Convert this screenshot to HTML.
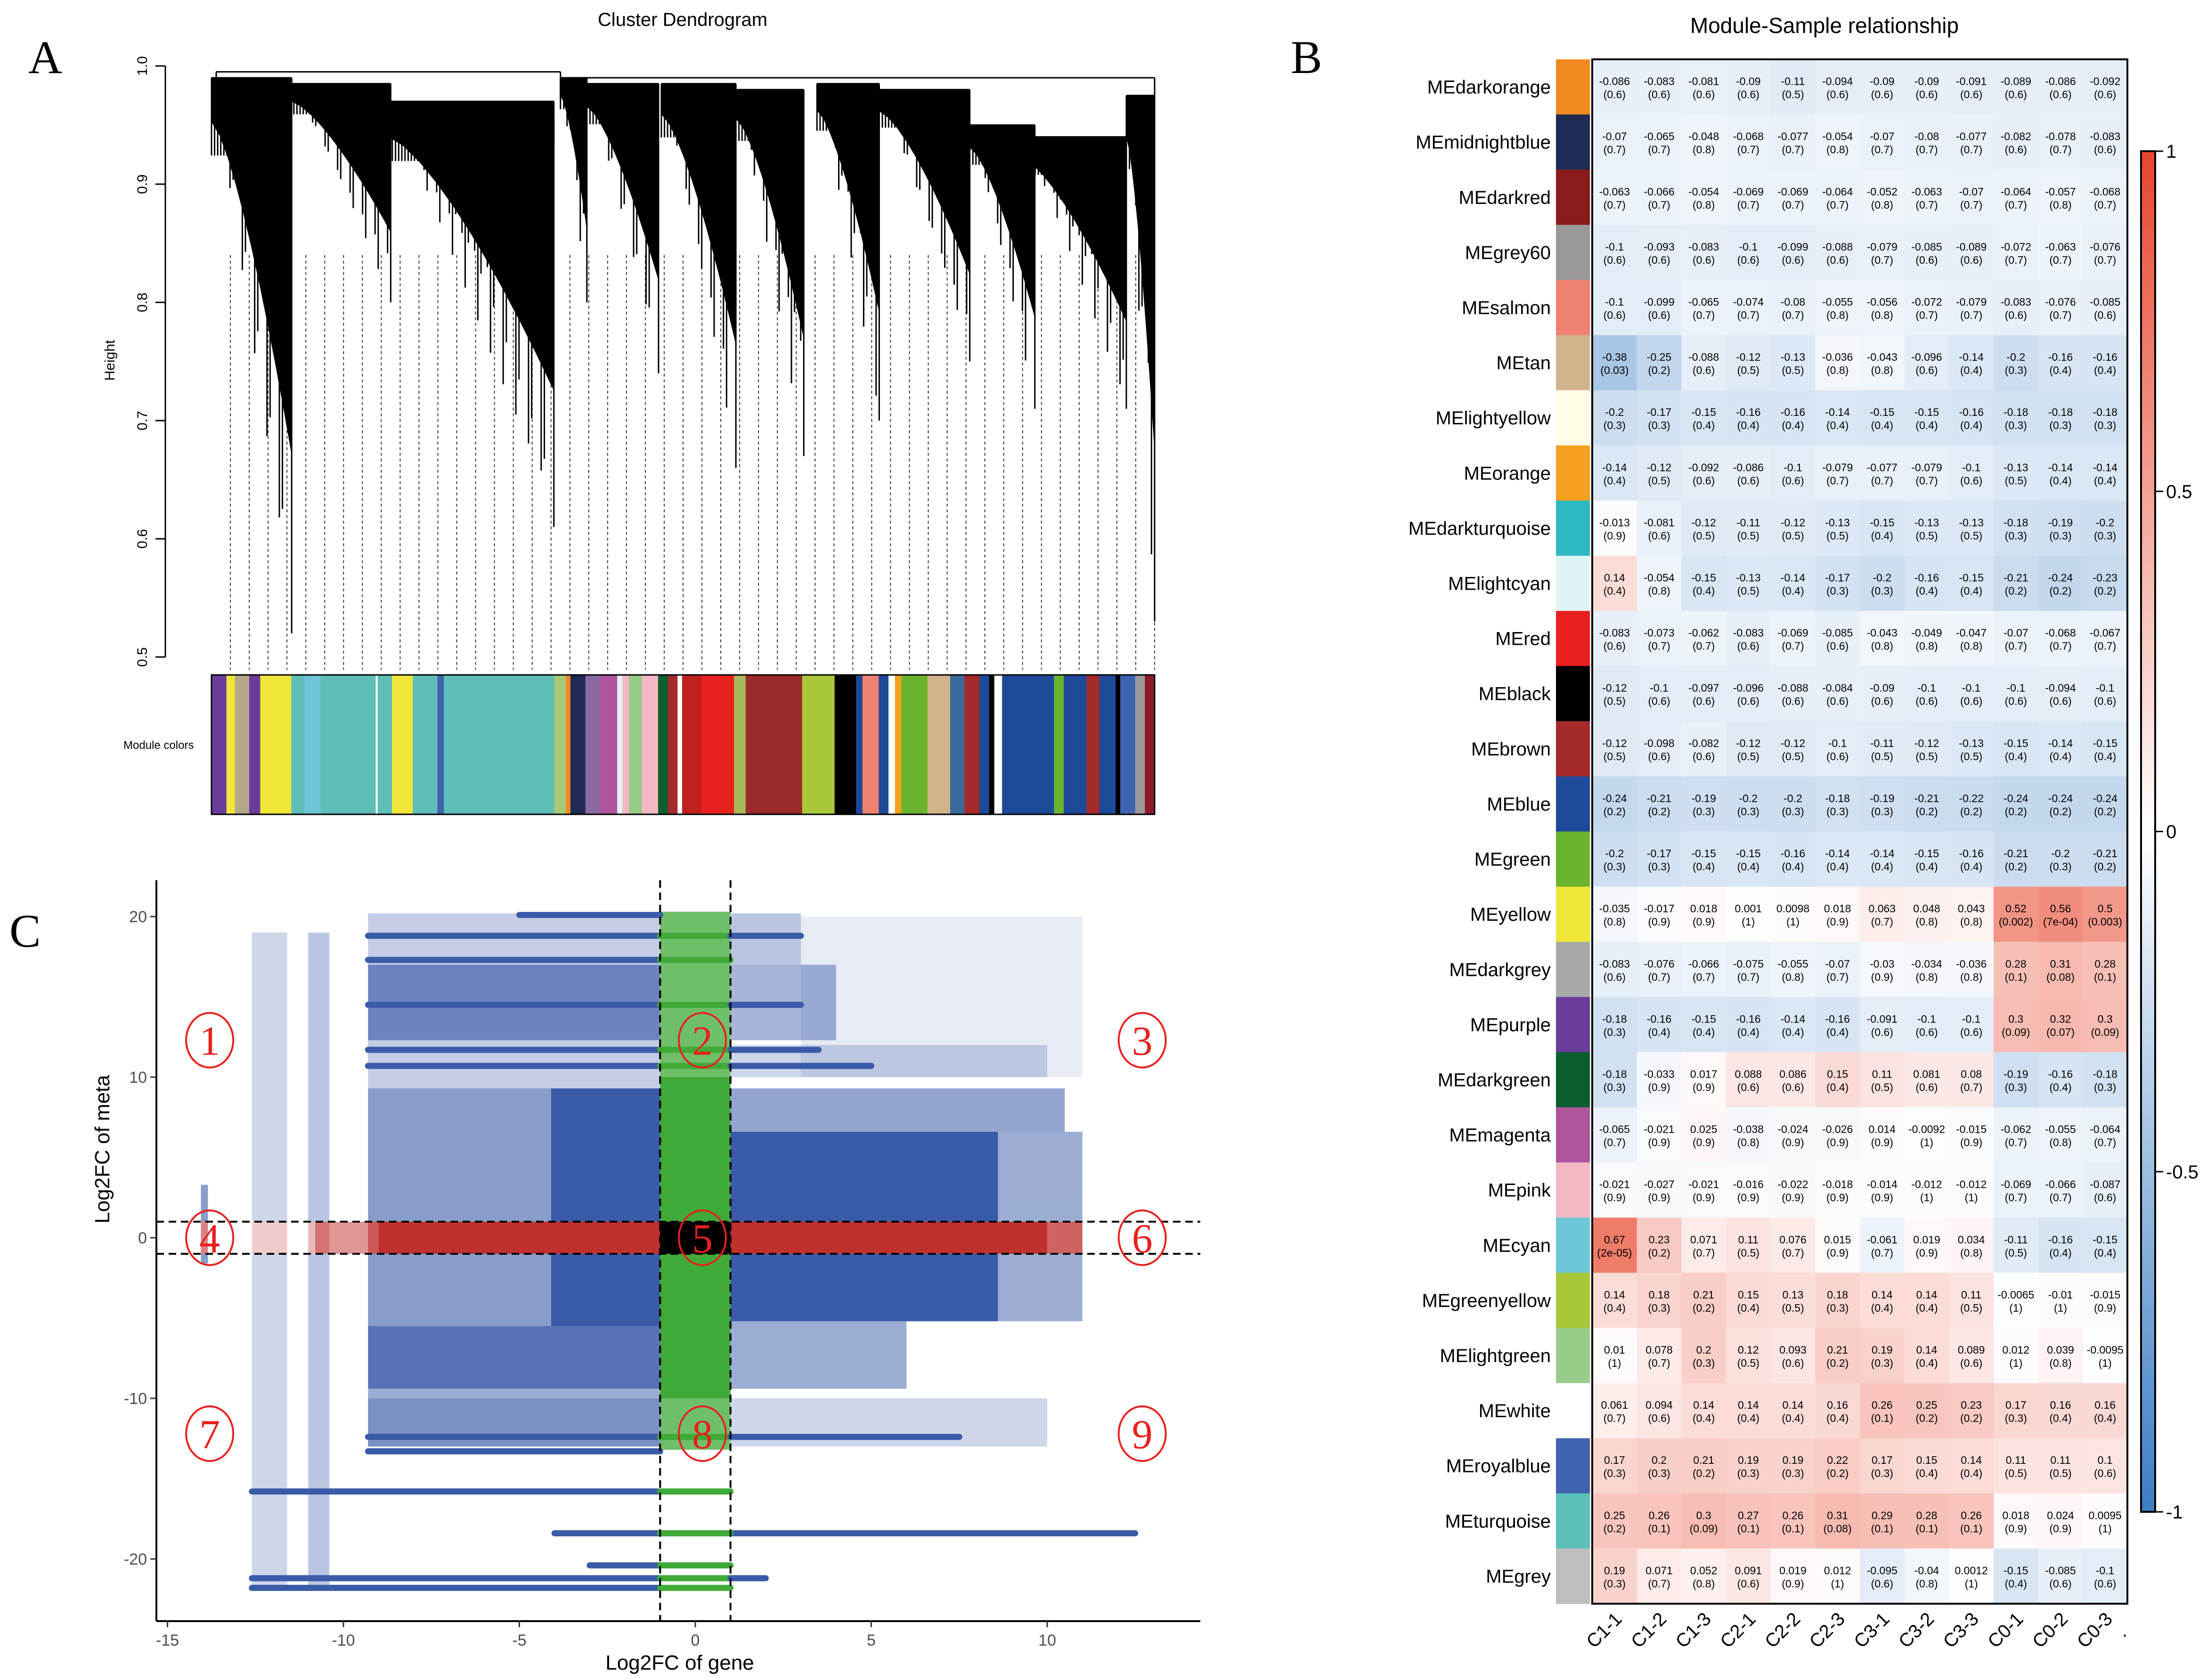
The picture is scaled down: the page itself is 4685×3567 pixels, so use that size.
<!DOCTYPE html>
<html><head><meta charset="utf-8"><style>
html,body{margin:0;padding:0;background:#fff;}
svg{display:block;font-family:"Liberation Sans",sans-serif;}
</style></head><body>
<svg id="fig" width="4685" height="3567" viewBox="0 0 4685 3567" xmlns="http://www.w3.org/2000/svg">
<rect width="4685" height="3567" fill="#fff"/>
<text x="60" y="155" font-family="Liberation Serif,serif" font-size="100">A</text>
<text x="2740" y="155" font-family="Liberation Serif,serif" font-size="100">B</text>
<text x="20" y="2010" font-family="Liberation Serif,serif" font-size="100">C</text>
<g id="pa"></g>
<g id="pb"></g>
<g id="pc"></g>
</svg>
<script>
const NS="http://www.w3.org/2000/svg";
function mk(p,t,a){const e=document.createElementNS(NS,t);for(const k in a)e.setAttribute(k,a[k]);p.appendChild(e);return e;}

/* ---------- Panel A: dendrogram ---------- */
const clusterLeft=[0.0,0.084,0.185,0.37,0.398,0.477,0.556,0.642,0.708,0.804,0.86,0.97];
const clusterRight=[0.085,0.19,0.363,0.398,0.474,0.556,0.628,0.708,0.804,0.873,0.97,1.0];
const clusterTop=[0.99,0.985,0.97,0.99,0.985,0.985,0.98,0.985,0.98,0.95,0.94,0.975];
const clusterBottom=[0.52,0.80,0.61,0.80,0.74,0.66,0.67,0.70,0.75,0.71,0.71,0.53];
const mergeLeft=[0.005,0.37,0.185];
const mergeRight=[0.37,1.0,0.363];
const mergeHeight=[0.995,0.99,0.955];
const yTicksA=[0.5,0.6,0.7,0.8,0.9,1.0];
const colorStart=[0,23,36,58,75,123,143,168,253,256,278,310,348,358,528,546,553,576,598,625,633,643,663,688,703,718,725,755,805,823,910,960,993,1003,1028,1043,1053,1063,1103,1138,1160,1183,1198,1206,1218,1298,1313,1348,1368,1393,1400,1423,1438];
const colorFill=["#6A3D9A","#F0E63A","#B5A88A","#6A3D9A","#F0E63A","#5EBFB8","#6EC5D8","#5EBFB8","#ffffff","#5EBFB8","#F0E63A","#5EBFB8","#3F63B0","#5EBFB8","#A8C878","#F08A1E","#1F2A55","#8A6AA0","#B0549E","#E0F4F6","#F4B8C4","#98CC88","#F4B8C4","#0B5E30","#A52A2A","#ffffff","#C02020","#E8201E","#A8B85A","#9B2A2A","#A8C83A","#000000","#1E4A9A","#F08070","#1E4A9A","#ffffff","#F5A01E","#6AB42E","#D2B48C","#3A6A9A","#A52A2A","#1E4A9A","#000000","#ffffff","#1E4A9A","#6AB42E","#1E4A9A","#A52A2A","#1E4A9A","#000000","#3F63B0","#999999","#8B1A2A"];
(function(){
 const g=document.getElementById('pa');
 const X0=449,X1=2451,total=1453;
 const hx=f=>X0+f*(X1-X0), hy=h=>140+(1-h)*2510;
 const t=mk(g,'text',{x:1449,y:55,'text-anchor':'middle','font-size':40});t.textContent='Cluster Dendrogram';
 
 
 mk(g,'line',{x1:351,y1:hy(1.0),x2:351,y2:hy(0.5),stroke:'#000','stroke-width':3});
 yTicksA.forEach(v=>{mk(g,'line',{x1:330,y1:hy(v),x2:351,y2:hy(v),stroke:'#000','stroke-width':3});
  const l=mk(g,'text',{x:312,y:hy(v),'text-anchor':'middle','font-size':30,transform:`rotate(-90 312 ${hy(v)})`});l.textContent=v.toFixed(1);
  
  });
 const ht=mk(g,'text',{x:243,y:765,'text-anchor':'middle','font-size':30,transform:'rotate(-90 243 765)'});ht.textContent='Height';
 
 
 for(let i=0;i<50;i++){const f=0.02+i*0.02;mk(g,'line',{x1:hx(f),y1:hy(0.84),x2:hx(f),y2:1422,stroke:'#333','stroke-width':2,'stroke-dasharray':'6,6'});}
 clusterLeft.forEach((l,i)=>{
  const r=clusterRight[i],top=clusterTop[i],bot=clusterBottom[i];
  const N=Math.max(6,Math.round((r-l)*300));
  const cg=mk(g,'g',{});
  
  
  for(let k=0;k<=N;k++){const u=k/N;const x=hx(l+(r-l)*u);
   const s=Math.abs(Math.sin(k*2.37+i));
   const f=Math.max(0.14,Math.pow(u,1.1)*(0.45+0.55*s*s));
   const depth=(top-bot)*(k===N?1:f);
   mk(cg,'line',{x1:x,y1:hy(top),x2:x,y2:hy(top-depth),stroke:'#000','stroke-width':3});}
  // black mass sweeping down along the cluster
  const pts=[`${hx(l)},${hy(top)}`,`${hx(r)},${hy(top)}`];
  for(let k=10;k>=0;k--){const u=k/10;pts.push(`${hx(l+(r-l)*u)},${hy(top-(top-bot)*(0.08+0.6*Math.pow(u,1.4)))}`);}
  mk(cg,'polygon',{points:pts.join(' '),fill:'#000'});
  mk(cg,'line',{x1:hx(l),y1:hy(top),x2:hx(r),y2:hy(top),stroke:'#000','stroke-width':3});
 });
 mergeLeft.forEach((l,i)=>{const h=mergeHeight[i];
  mk(g,'line',{x1:hx(l),y1:hy(h),x2:hx(mergeRight[i]),y2:hy(h),stroke:'#000','stroke-width':3});
  mk(g,'line',{x1:hx(l),y1:hy(h),x2:hx(l),y2:hy(h-0.02),stroke:'#000','stroke-width':3});
  mk(g,'line',{x1:hx(mergeRight[i]),y1:hy(h),x2:hx(mergeRight[i]),y2:hy(h-0.02),stroke:'#000','stroke-width':3});});
 const cb=mk(g,'g',{});
 
 
 colorStart.forEach((s,i)=>{const e=i+1<colorStart.length?colorStart[i+1]:total;
  mk(cb,'rect',{x:X0+s/total*(X1-X0),y:1433,width:(e-s)/total*(X1-X0)+0.5,height:296,fill:colorFill[i]});});
 mk(cb,'rect',{x:X0,y:1433,width:X1-X0,height:296,fill:'none',stroke:'#000','stroke-width':3});
 const mc=mk(g,'text',{x:262,y:1590,'font-size':24});mc.textContent='Module colors';
 
 
})();

/* ---------- Panel B: heatmap ---------- */
const modules=["MEdarkorange","MEmidnightblue","MEdarkred","MEgrey60","MEsalmon","MEtan","MElightyellow","MEorange","MEdarkturquoise","MElightcyan","MEred","MEblack","MEbrown","MEblue","MEgreen","MEyellow","MEdarkgrey","MEpurple","MEdarkgreen","MEmagenta","MEpink","MEcyan","MEgreenyellow","MElightgreen","MEwhite","MEroyalblue","MEturquoise","MEgrey"];
const moduleColors=["#F08A1E","#1F2A55","#8B1A1A","#999999","#F08070","#D2B48C","#FFFDE6","#F5A01E","#2EB8C0","#E0F4F6","#E8201E","#000000","#A52A2A","#1E4A9A","#6AB42E","#F0E63A","#A9A9A9","#6A3D9A","#0B5E30","#B0549E","#F4B8C4","#6CC8D6","#A8C83A","#98CC88","#FFFFFF","#3F63B0","#5CC0B8","#BEBEBE"];
const samples=["C1-1","C1-2","C1-3","C2-1","C2-2","C2-3","C3-1","C3-2","C3-3","C0-1","C0-2","C0-3"];
const corr=[
[-0.086,-0.083,-0.081,-0.09,-0.11,-0.094,-0.09,-0.09,-0.091,-0.089,-0.086,-0.092],
[-0.07,-0.065,-0.048,-0.068,-0.077,-0.054,-0.07,-0.08,-0.077,-0.082,-0.078,-0.083],
[-0.063,-0.066,-0.054,-0.069,-0.069,-0.064,-0.052,-0.063,-0.07,-0.064,-0.057,-0.068],
[-0.1,-0.093,-0.083,-0.1,-0.099,-0.088,-0.079,-0.085,-0.089,-0.072,-0.063,-0.076],
[-0.1,-0.099,-0.065,-0.074,-0.08,-0.055,-0.056,-0.072,-0.079,-0.083,-0.076,-0.085],
[-0.38,-0.25,-0.088,-0.12,-0.13,-0.036,-0.043,-0.096,-0.14,-0.2,-0.16,-0.16],
[-0.2,-0.17,-0.15,-0.16,-0.16,-0.14,-0.15,-0.15,-0.16,-0.18,-0.18,-0.18],
[-0.14,-0.12,-0.092,-0.086,-0.1,-0.079,-0.077,-0.079,-0.1,-0.13,-0.14,-0.14],
[-0.013,-0.081,-0.12,-0.11,-0.12,-0.13,-0.15,-0.13,-0.13,-0.18,-0.19,-0.2],
[0.14,-0.054,-0.15,-0.13,-0.14,-0.17,-0.2,-0.16,-0.15,-0.21,-0.24,-0.23],
[-0.083,-0.073,-0.062,-0.083,-0.069,-0.085,-0.043,-0.049,-0.047,-0.07,-0.068,-0.067],
[-0.12,-0.1,-0.097,-0.096,-0.088,-0.084,-0.09,-0.1,-0.1,-0.1,-0.094,-0.1],
[-0.12,-0.098,-0.082,-0.12,-0.12,-0.1,-0.11,-0.12,-0.13,-0.15,-0.14,-0.15],
[-0.24,-0.21,-0.19,-0.2,-0.2,-0.18,-0.19,-0.21,-0.22,-0.24,-0.24,-0.24],
[-0.2,-0.17,-0.15,-0.15,-0.16,-0.14,-0.14,-0.15,-0.16,-0.21,-0.2,-0.21],
[-0.035,-0.017,0.018,0.001,0.0098,0.018,0.063,0.048,0.043,0.52,0.56,0.5],
[-0.083,-0.076,-0.066,-0.075,-0.055,-0.07,-0.03,-0.034,-0.036,0.28,0.31,0.28],
[-0.18,-0.16,-0.15,-0.16,-0.14,-0.16,-0.091,-0.1,-0.1,0.3,0.32,0.3],
[-0.18,-0.033,0.017,0.088,0.086,0.15,0.11,0.081,0.08,-0.19,-0.16,-0.18],
[-0.065,-0.021,0.025,-0.038,-0.024,-0.026,0.014,-0.0092,-0.015,-0.062,-0.055,-0.064],
[-0.021,-0.027,-0.021,-0.016,-0.022,-0.018,-0.014,-0.012,-0.012,-0.069,-0.066,-0.087],
[0.67,0.23,0.071,0.11,0.076,0.015,-0.061,0.019,0.034,-0.11,-0.16,-0.15],
[0.14,0.18,0.21,0.15,0.13,0.18,0.14,0.14,0.11,-0.0065,-0.01,-0.015],
[0.01,0.078,0.2,0.12,0.093,0.21,0.19,0.14,0.089,0.012,0.039,-0.0095],
[0.061,0.094,0.14,0.14,0.14,0.16,0.26,0.25,0.23,0.17,0.16,0.16],
[0.17,0.2,0.21,0.19,0.19,0.22,0.17,0.15,0.14,0.11,0.11,0.1],
[0.25,0.26,0.3,0.27,0.26,0.31,0.29,0.28,0.26,0.018,0.024,0.0095],
[0.19,0.071,0.052,0.091,0.019,0.012,-0.095,-0.04,0.0012,-0.15,-0.085,-0.1]];
const pvals=[
["0.6","0.6","0.6","0.6","0.5","0.6","0.6","0.6","0.6","0.6","0.6","0.6"],
["0.7","0.7","0.8","0.7","0.7","0.8","0.7","0.7","0.7","0.6","0.7","0.6"],
["0.7","0.7","0.8","0.7","0.7","0.7","0.8","0.7","0.7","0.7","0.8","0.7"],
["0.6","0.6","0.6","0.6","0.6","0.6","0.7","0.6","0.6","0.7","0.7","0.7"],
["0.6","0.6","0.7","0.7","0.7","0.8","0.8","0.7","0.7","0.6","0.7","0.6"],
["0.03","0.2","0.6","0.5","0.5","0.8","0.8","0.6","0.4","0.3","0.4","0.4"],
["0.3","0.3","0.4","0.4","0.4","0.4","0.4","0.4","0.4","0.3","0.3","0.3"],
["0.4","0.5","0.6","0.6","0.6","0.7","0.7","0.7","0.6","0.5","0.4","0.4"],
["0.9","0.6","0.5","0.5","0.5","0.5","0.4","0.5","0.5","0.3","0.3","0.3"],
["0.4","0.8","0.4","0.5","0.4","0.3","0.3","0.4","0.4","0.2","0.2","0.2"],
["0.6","0.7","0.7","0.6","0.7","0.6","0.8","0.8","0.8","0.7","0.7","0.7"],
["0.5","0.6","0.6","0.6","0.6","0.6","0.6","0.6","0.6","0.6","0.6","0.6"],
["0.5","0.6","0.6","0.5","0.5","0.6","0.5","0.5","0.5","0.4","0.4","0.4"],
["0.2","0.2","0.3","0.3","0.3","0.3","0.3","0.2","0.2","0.2","0.2","0.2"],
["0.3","0.3","0.4","0.4","0.4","0.4","0.4","0.4","0.4","0.2","0.3","0.2"],
["0.8","0.9","0.9","1","1","0.9","0.7","0.8","0.8","0.002","7e-04","0.003"],
["0.6","0.7","0.7","0.7","0.8","0.7","0.9","0.8","0.8","0.1","0.08","0.1"],
["0.3","0.4","0.4","0.4","0.4","0.4","0.6","0.6","0.6","0.09","0.07","0.09"],
["0.3","0.9","0.9","0.6","0.6","0.4","0.5","0.6","0.7","0.3","0.4","0.3"],
["0.7","0.9","0.9","0.8","0.9","0.9","0.9","1","0.9","0.7","0.8","0.7"],
["0.9","0.9","0.9","0.9","0.9","0.9","0.9","1","1","0.7","0.7","0.6"],
["2e-05","0.2","0.7","0.5","0.7","0.9","0.7","0.9","0.8","0.5","0.4","0.4"],
["0.4","0.3","0.2","0.4","0.5","0.3","0.4","0.4","0.5","1","1","0.9"],
["1","0.7","0.3","0.5","0.6","0.2","0.3","0.4","0.6","1","0.8","1"],
["0.7","0.6","0.4","0.4","0.4","0.4","0.1","0.2","0.2","0.3","0.4","0.4"],
["0.3","0.3","0.2","0.3","0.3","0.2","0.3","0.4","0.4","0.5","0.5","0.6"],
["0.2","0.1","0.09","0.1","0.1","0.08","0.1","0.1","0.1","0.9","0.9","1"],
["0.3","0.7","0.8","0.6","0.9","1","0.6","0.8","1","0.4","0.6","0.6"]];
const scaleTicks=[1,0.5,0,-0.5,-1];
(function(){
 const g=document.getElementById('pb');
 const L=3380,R=4516,T=126,B=3405,nr=modules.length,nc=samples.length;
 const rh=(B-T)/nr,cw=(R-L)/nc;
 const col=v=>{const t=Math.pow(Math.min(1,Math.abs(v)),0.85);
  const c=v>=0?[232,69,44]:[58,125,196];
  return `rgb(${Math.round(255+(c[0]-255)*t)},${Math.round(255+(c[1]-255)*t)},${Math.round(255+(c[2]-255)*t)})`;};
 const tt=mk(g,'text',{x:3873,y:70,'text-anchor':'middle','font-size':46});tt.textContent='Module-Sample relationship';
 
 
 modules.forEach((m,i)=>{
  const y=T+i*rh;
  const sw=mk(g,'rect',{x:3303,y:y,width:72,height:rh+0.5,fill:moduleColors[i]});
  
  
  const lb=mk(g,'text',{x:3292,y:y+rh/2+14,'text-anchor':'end','font-size':40});lb.textContent=m;
  
  
  samples.forEach((s,j)=>{
   const x=L+j*cw,v=corr[i][j];
   const c=mk(g,'rect',{x:x,y:y,width:cw+0.5,height:rh+0.5,fill:col(v)});
   
   
   const t1=mk(g,'text',{x:x+cw/2,y:y+rh/2-4,'text-anchor':'middle','font-size':23});t1.textContent=String(v);
   const t2=mk(g,'text',{x:x+cw/2,y:y+rh/2+24,'text-anchor':'middle','font-size':23});t2.textContent='('+pvals[i][j]+')';
  });
 });
 mk(g,'rect',{x:L,y:T,width:R-L,height:B-T,fill:'none',stroke:'#000','stroke-width':4});
 samples.forEach((s,j)=>{const cx=L+j*cw+cw/2+18,cy=3440;
  const t=mk(g,'text',{x:cx,y:cy,'text-anchor':'end','font-size':40,transform:`rotate(-45 ${cx} ${cy})`});t.textContent=s;
  
  });
 const dt=mk(g,'text',{x:4505,y:3475,'font-size':40});dt.textContent='.';
 const defs=mk(g,'defs',{});const lg=mk(defs,'linearGradient',{id:'cbg',x1:0,y1:0,x2:0,y2:1});
 mk(lg,'stop',{offset:'0','stop-color':'#E8452C'});mk(lg,'stop',{offset:'0.5','stop-color':'#ffffff'});mk(lg,'stop',{offset:'1','stop-color':'#3A7DC4'});
 const cbT=321,cbB=3210;
 const cbr=mk(g,'rect',{x:4545,y:cbT,width:30,height:cbB-cbT,fill:'url(#cbg)',stroke:'#000','stroke-width':4});
 
 
 scaleTicks.forEach(v=>{const y=cbT+(1-v)/2*(cbB-cbT);
  mk(g,'line',{x1:4575,y1:y,x2:4592,y2:y,stroke:'#000','stroke-width':3});
  const t=mk(g,'text',{x:4598,y:y+14,'font-size':40});t.textContent=String(v);
  
  });
})();

/* ---------- Panel C: scatter ---------- */
const blockXmin=[-12.6,-11.0,-14.05,3,-9.3,1,-9.3,1,-9.3,1,-9.3,-9.3,1,-9.3,-9.3,1,8.6,1,-10.8,10,-4.1,1,-1,-9,-1,-1];
const blockXmax=[-11.6,-10.4,-13.85,11,-1,3,-1,10,-1,10,-4.1,-1,4,-1,-1,10.5,11,6,-9,11,-1,8.6,1,10,1,1];
const blockYmin=[-21.8,-21.8,-1.6,10,17,17,9.3,10,-13,-13,-5.5,12.3,12.3,-9.4,-13,6.6,-5.2,-9.4,-1,-1,-5.5,-5.2,-10,-1,10,-13.2];
const blockYmax=[19,19,3.3,20,20.2,20.2,12.3,12,-10,-10,9.3,17,17,-5.5,-9.4,9.3,6.6,-5.2,1,1,9.3,6.6,10,1,20.3,-10];
const blockDensity=[0.25,0.35,0.6,0.12,0.3,0.35,0.3,0.25,0.35,0.25,0.6,0.75,0.45,0.85,0.5,0.55,0.5,0.5,0.5,0.5,1,1,1,1,0.75,0.75];
const rowY=[20.1,18.8,17.3,14.5,11.7,10.7,-12.4,-13.3,-15.8,-18.4,-18.4,-20.4,-21.2,-21.8];
const rowXmin=[-5,-9.3,-9.3,-9.3,-9.3,-9.3,-9.3,-9.3,-12.6,1,-4,-3,-12.6,-12.6];
const rowXmax=[-1,3,1,3,3.5,5,7.5,-1,1,12.5,1,1,2,1];
const xTicks=[-15,-10,-5,0,5,10];
const yTicks=[20,10,0,-10,-20];
const regionNums=["1","2","3","4","5","6","7","8","9"];
const regionX=[-13.8,0.2,12.7,-13.8,0.2,12.7,-13.8,0.2,12.7];
const regionY=[12.3,12.3,12.3,0,0,0,-12.2,-12.2,-12.2];
(function(){
 const g=document.getElementById('pc');
 const sx=x=>1476+x*74.7, sy=y=>2628-y*34.1;
 const PL=332,PR=2548,PT=1869,PB=3442;
 const cls=(xa,xb,ya,yb)=>{const ix=xa>=-1&&xb<=1, iy=ya>=-1&&yb<=1;
  return ix&&iy?'#000':ix?'#3FAA38':iy?'#C0302E':'#3A5BA8';};
 const xs=[-99,-1,1,99], ys=[-99,-1,1,99];
 const order=blockDensity.map((d,i)=>i).sort((a,b)=>blockDensity[a]-blockDensity[b]);
 const bg=mk(g,'g',{});
 
 
 order.forEach(i=>{
  for(let a=0;a<3;a++)for(let b=0;b<3;b++){
   const xa=Math.max(blockXmin[i],xs[a]),xb=Math.min(blockXmax[i],xs[a+1]);
   const ya=Math.max(blockYmin[i],ys[b]),yb=Math.min(blockYmax[i],ys[b+1]);
   if(xb<=xa||yb<=ya)continue;
   const r=mk(bg,'rect',{x:sx(xa),y:sy(yb),width:sx(xb)-sx(xa),height:sy(ya)-sy(yb),fill:cls(xa,xb,ya,yb),'fill-opacity':blockDensity[i]});
   
   
  }});
 rowY.forEach((y,i)=>{
  for(let a=0;a<3;a++){const xa=Math.max(rowXmin[i],xs[a]),xb=Math.min(rowXmax[i],xs[a+1]);if(xb<=xa)continue;
   const l=mk(bg,'line',{x1:sx(xa),y1:sy(y),x2:sx(xb),y2:sy(y),stroke:cls(xa,xb,y,y),'stroke-width':13,'stroke-linecap':'round'});
   
   }});
 [-1,1].forEach(v=>{
  mk(g,'line',{x1:sx(v),y1:PT,x2:sx(v),y2:PB,stroke:'#000','stroke-width':4,'stroke-dasharray':'16,10'});
  mk(g,'line',{x1:PL,y1:sy(v),x2:PR,y2:sy(v),stroke:'#000','stroke-width':4,'stroke-dasharray':'16,10'});});
 mk(g,'line',{x1:PL,y1:PT,x2:PL,y2:PB,stroke:'#000','stroke-width':4});
 mk(g,'line',{x1:PL,y1:PB,x2:PR,y2:PB,stroke:'#000','stroke-width':4});
 xTicks.forEach(v=>{mk(g,'line',{x1:sx(v),y1:PB,x2:sx(v),y2:PB+13,stroke:'#333','stroke-width':3});
  const t=mk(g,'text',{x:sx(v),y:PB+52,'text-anchor':'middle','font-size':34,fill:'#4D4D4D'});t.textContent=String(v);
  
  });
 yTicks.forEach(v=>{mk(g,'line',{x1:PL-13,y1:sy(v),x2:PL,y2:sy(v),stroke:'#333','stroke-width':3});
  const t=mk(g,'text',{x:PL-20,y:sy(v)+12,'text-anchor':'end','font-size':34,fill:'#4D4D4D'});t.textContent=String(v);
  
  });
 const xl=mk(g,'text',{x:1443,y:3545,'text-anchor':'middle','font-size':44});xl.textContent='Log2FC of gene';
 
 
 const yl=mk(g,'text',{x:232,y:2440,'text-anchor':'middle','font-size':44,transform:'rotate(-90 232 2440)'});yl.textContent='Log2FC of meta';
 
 
 regionNums.forEach((n,i)=>{const cx=sx(regionX[i]),cy=sy(regionY[i]);
  const rg=mk(g,'g',{});
  
  
  mk(rg,'ellipse',{cx:cx,cy:cy,rx:50,ry:58,fill:'none',stroke:'#E8201E','stroke-width':4});
  const t=mk(rg,'text',{x:cx,y:cy+31,'text-anchor':'middle','font-size':88,fill:'#E8201E','font-family':'Liberation Serif,serif'});t.textContent=n;});
})();
</script>
</body></html>
